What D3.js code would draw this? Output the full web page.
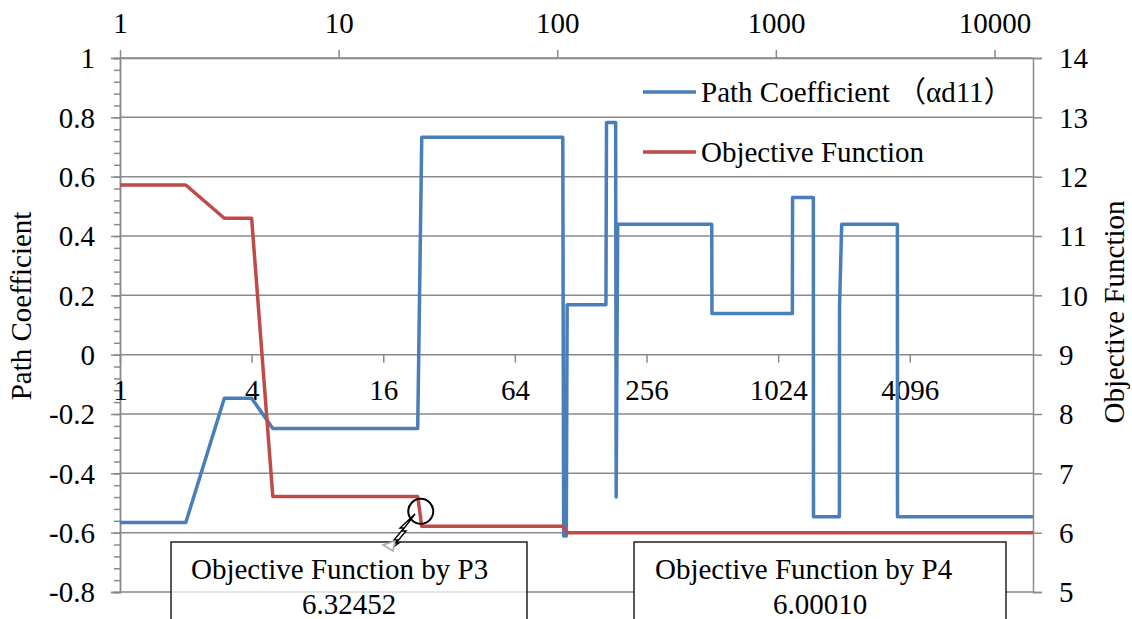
<!DOCTYPE html>
<html>
<head>
<meta charset="utf-8">
<script src="https://cdn.jsdelivr.net/npm/d3@7"></script>
<style>
  body { margin: 0; background: #fff; }
  svg { display: block; }
  text { font-family: "Liberation Serif", "Times New Roman", Tinos, serif; fill: #000; }
  tspan.cjk { font-family: "Noto Sans CJK JP", "Liberation Serif", serif; }
</style>
</head>
<body>
<svg id="chart"></svg>
<script>
// path coefficient (left axis), breakpoints of the trace
const coefX = [1, 2, 3, 4, 5, 23, 24, 106, 107, 110, 111, 167, 168, 185, 186, 189, 509, 510,
  1190, 1192, 1484, 1486, 1952, 1955, 2000, 3596, 3600, 15000];
const coefY = [-0.566, -0.566, -0.147, -0.147, -0.249, -0.249, 0.733, 0.733, -0.611, -0.611, 0.168,
  0.168, 0.783, 0.783, -0.48, 0.44, 0.44, 0.139, 0.139, 0.53, 0.53, -0.546, -0.546, 0.161, 0.44,
  0.44, -0.546, -0.546];

// objective function (right axis)
const objX = [1, 2, 3, 4, 5, 23, 24, 106, 111, 15000];
const objY = [11.86, 11.86, 11.30, 11.30, 6.61, 6.61, 6.11, 6.11, 6.00, 6.00];

const topTicks = [1, 10, 100, 1000, 10000];
const bottomTicks = [1, 4, 16, 64, 256, 1024, 4096];
const leftTicks = [-0.8, -0.6, -0.4, -0.2, 0, 0.2, 0.4, 0.6, 0.8, 1];
const rightTicks = [5, 6, 7, 8, 9, 10, 11, 12, 13, 14];

const seriesNames = [["Path Coefficient ", "\uFF08", "\u03B1d11", "\uFF09"], ["Objective Function"]];
const noteTitles = ["Objective Function by P3", "Objective Function by P4"];
const noteValues = ["6.32452", "6.00010"];

const W = 1132, H = 619;
const plotL = 120, plotR = 1033, plotT = 58, plotB = 592;
const blue = "#4a7ebb", red = "#be4b48", grid = "#8a8a8a";
const fs = 29;

const svg = d3.select("#chart").attr("width", W).attr("height", H);

const x = d3.scaleLog().domain([1, 15000]).range([plotL, plotR]);
const yL = d3.scaleLinear().domain([-0.8, 1]).range([plotB, plotT]);
const yR = d3.scaleLinear().domain([5, 14]).range([plotB, plotT]);

// horizontal gridlines
svg.append("g")
  .selectAll("line")
  .data(leftTicks)
  .join("line")
  .attr("x1", plotL)
  .attr("x2", plotR)
  .attr("y1", d => yL(d))
  .attr("y2", d => yL(d))
  .attr("stroke", grid)
  .attr("stroke-width", 1.5);

function styleAxis(g) {
  g.attr("font-family", null);
  g.select(".domain").attr("stroke", grid).attr("stroke-width", 1.5);
  g.selectAll(".tick line").attr("stroke", grid).attr("stroke-width", 1.5);
  g.selectAll("text").style("font-size", fs + "px").attr("fill", "#000");
}

// left axis with minor ticks
svg.append("g")
  .attr("transform", `translate(${plotL},0)`)
  .call(d3.axisLeft(yL).tickValues(d3.range(-0.8, 1.001, 0.04)).tickSize(6).tickFormat(""))
  .call(styleAxis);
svg.append("g")
  .attr("transform", `translate(${plotL},0)`)
  .call(d3.axisLeft(yL).tickValues(leftTicks).tickSize(9).tickPadding(16)
    .tickFormat(d => String(+d.toFixed(1))))
  .call(styleAxis)
  .call(g => g.selectAll("text").attr("dy", "0.34em"));

// right axis
svg.append("g")
  .attr("transform", `translate(${plotR},0)`)
  .call(d3.axisRight(yR).tickValues(rightTicks).tickSize(9).tickPadding(17))
  .call(styleAxis)
  .call(g => g.selectAll("text").attr("dy", "0.34em"));

// top log10 axis
svg.append("g")
  .attr("transform", `translate(0,${plotT})`)
  .call(d3.axisTop(x).tickValues(topTicks).tickSize(8).tickSizeOuter(0).tickFormat(d3.format("d")))
  .call(styleAxis)
  .call(g => g.selectAll("text").attr("y", -25).attr("dy", null));

// log2 axis crossing at zero
svg.append("g")
  .attr("transform", `translate(0,${yL(0)})`)
  .call(d3.axisBottom(x).tickValues(bottomTicks).tickSize(8).tickSizeOuter(0).tickFormat(d3.format("d")))
  .call(styleAxis)
  .call(g => g.select(".domain").remove())
  .call(g => g.selectAll("text").attr("y", 45).attr("dy", null));

// axis titles
svg.append("text")
  .attr("transform", `translate(${31},${306}) rotate(-90)`)
  .attr("text-anchor", "middle")
  .style("font-size", fs + "px")
  .text("Path Coefficient");
svg.append("text")
  .attr("transform", `translate(${1124},${312}) rotate(-90)`)
  .attr("text-anchor", "middle")
  .style("font-size", fs + "px")
  .text("Objective Function");

// series
const coefData = coefX.map((v, i) => [v, coefY[i]]);
const objData = objX.map((v, i) => [v, objY[i]]);

svg.append("path")
  .datum(coefData)
  .attr("fill", "none")
  .attr("stroke", blue)
  .attr("stroke-width", 3.5)
  .attr("stroke-linejoin", "round")
  .attr("d", d3.line().x(d => x(d[0])).y(d => yL(d[1])));

svg.append("path")
  .datum(objData)
  .attr("fill", "none")
  .attr("stroke", red)
  .attr("stroke-width", 3.5)
  .attr("stroke-linejoin", "round")
  .attr("d", d3.line().x(d => x(d[0])).y(d => yR(d[1])));

// legend
const legend = svg.append("g")
  .selectAll("g")
  .data(seriesNames)
  .join("g")
  .attr("transform", (d, i) => `translate(643,${92 + i * 60})`);
legend.append("line")
  .attr("x1", 0).attr("x2", 53)
  .attr("stroke", (d, i) => i ? red : blue)
  .attr("stroke-width", 3.5);
legend.append("text")
  .attr("x", 58)
  .attr("dy", "0.33em")
  .style("font-size", fs + "px")
  .selectAll("tspan")
  .data(d => d)
  .join("tspan")
  .attr("class", s => /[\uFF08\uFF09]/.test(s) ? "cjk" : null)
  .text(s => s);

// annotation boxes
const boxes = [
  { x0: 171, x1: 527, t1: 191, opacity: 0.7 },
  { x0: 634, x1: 1006, t1: 655, opacity: 1 }
];
const notes = svg.append("g")
  .selectAll("g")
  .data(boxes)
  .join("g");
notes.append("rect")
  .attr("x", d => d.x0)
  .attr("y", 542)
  .attr("width", d => d.x1 - d.x0)
  .attr("height", 120)
  .attr("fill", "#fff")
  .attr("fill-opacity", d => d.opacity)
  .attr("stroke", "#000")
  .attr("stroke-width", 1.3);
notes.append("text")
  .attr("x", d => d.t1)
  .attr("y", 579)
  .style("font-size", fs + "px")
  .text((d, i) => noteTitles[i]);
notes.append("text")
  .attr("x", d => (d.x0 + d.x1) / 2)
  .attr("y", 614)
  .attr("text-anchor", "middle")
  .style("font-size", fs + "px")
  .text((d, i) => noteValues[i]);

// callout marker on the P3 step
const cx = x(23.5), cy = (yR(6.61) + yR(6.11)) / 2;
svg.append("circle")
  .attr("cx", cx + 1).attr("cy", cy)
  .attr("r", 12.5)
  .attr("fill", "none")
  .attr("stroke", "#000")
  .attr("stroke-width", 2);
svg.append("path")
  .attr("d", "M415,514 L402,531 L406,531 L396,543 L399,543 L390,549 L397,540 L394,540 L404,528 L400,528 Z")
  .attr("fill", "#fff")
  .attr("stroke", "#000")
  .attr("stroke-width", 1.4)
  .attr("stroke-linejoin", "miter");
svg.append("path")
  .attr("d", "M383,545 L395,541 L393,551 Z")
  .attr("fill", "#fff")
  .attr("stroke", "#aaa")
  .attr("stroke-width", 1.5);
</script>
</body>
</html>
